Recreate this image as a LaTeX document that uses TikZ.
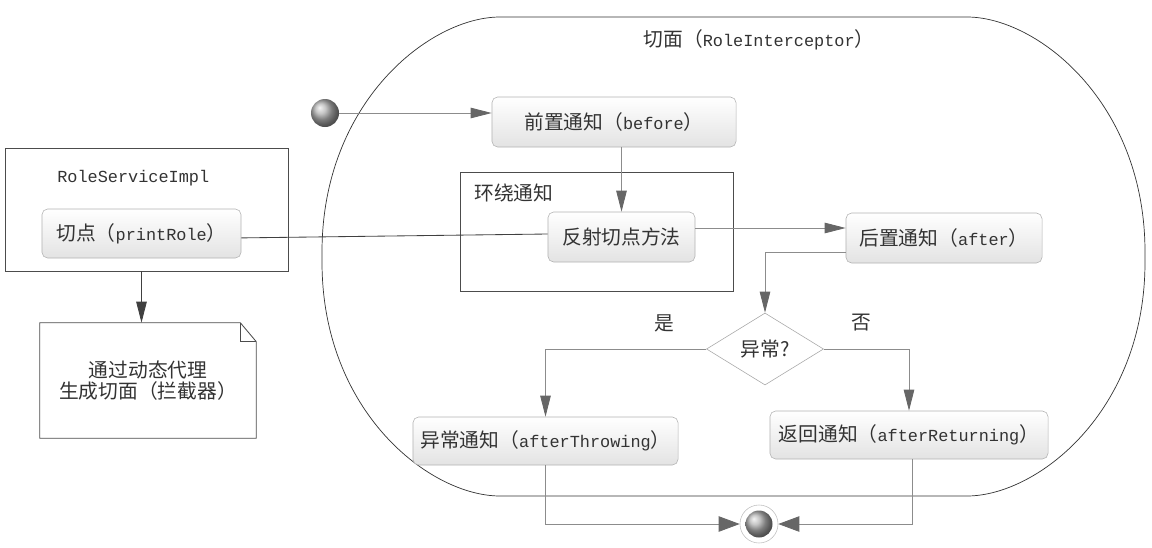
\documentclass[tikz,border=0pt]{standalone}
\usepackage{fontspec}
\setmainfont{Liberation Mono}
\newfontfamily\cjk[Scale=1.17]{Noto Sans CJK SC}
\usetikzlibrary{arrows.meta,shapes.geometric}
\newcommand{\zh}[1]{{\cjk #1}}

\begin{document}
\begin{tikzpicture}[x=0.025cm, y=-0.025cm, font=\fontsize{12}{14.5}\selectfont, text=black!80,
		advice/.style={draw=black!30, rounded corners=4pt, top color=white, bottom color=black!11, minimum height=1.25cm, inner sep=2pt},
		frame/.style={draw=black!70, line width=0.6pt},
		flow/.style={draw=black!45, line width=0.6pt, -{Triangle[length=15pt, width=7.5pt, color=black!60]}},
		flowwide/.style={flow, -{Triangle[length=15pt, width=11pt, color=black!60]}},
		ballnode/.style={circle, ball color=black!30, minimum size=0.7cm, inner sep=0pt}]
			%%%%% START %%%%%
			\useasboundingbox (0,0) rectangle (1152,547);
			
			% aspect outline
			\draw[black!80, line width=0.5pt] (500,17) -- (967,17) .. controls (1037,17) and (1145,102) .. (1145,252) -- (1145,262) .. controls (1145,412) and (1037,496) .. (967,496) -- (500,496) .. controls (430,496) and (322,412) .. (322,262) -- (322,252) .. controls (322,102) and (430,17) .. (500,17) -- cycle;
			\node (aspect) at (759,40) {\zh{切面（}RoleInterceptor\zh{）}};
			
			% target object
			\node[frame, minimum width=7.075cm, minimum height=3.075cm] (rsi) at (146.5,209.5) {};
			\node[anchor=west, inner sep=0pt] (rsilabel) at (57,178) {RoleServiceImpl};
			\node[advice, minimum width=4.975cm, minimum height=1.225cm] (cut) at (141.5,233.5) {\zh{切点（}printRole\zh{）}};
			
			\node[minimum width=5.4cm, minimum height=2.875cm, align=center] (note) at (148,380.5) {\zh{通过动态代理}\\\zh{生成切面（拦截器）}};
			\draw[frame] (note.north west) -- ([xshift=-0.4cm]note.north east) -- ([yshift=-0.475cm]note.north east) -- (note.south east) -- (note.south west) -- cycle;
			\draw[frame] ([xshift=-0.4cm]note.north east) -- ([xshift=-0.4cm, yshift=-0.475cm]note.north east) -- ([yshift=-0.475cm]note.north east);
			
			% advices
			\node[ballnode] (start) at (325,113) {};
			\node[advice, minimum width=6.1cm] (before) at (614,122) {\zh{前置通知（}before\zh{）}};
			
			\node[frame, minimum width=6.825cm, minimum height=2.975cm] (around) at (596.5,231.5) {};
			\node[anchor=west, inner sep=0pt] (aroundlabel) at (474,193) {\zh{环绕通知}};
			\node[advice, minimum width=3.675cm] (reflect) at (621.5,237) {\zh{反射切点方法}};
			
			\node[advice, minimum width=4.9cm] (after) at (944,238) {\zh{后置通知（}after\zh{）}};
			\node[diamond, draw=black!35, fill=white, minimum width=2.925cm, minimum height=1.8cm, inner sep=0pt] (exc) at (765,349) {\zh{异常?}};
			\node (yes) at (664,323) {\zh{是}};
			\node (no) at (861,323) {\zh{否}};
			
			\node[advice, minimum width=6.625cm, minimum height=1.2cm] (throwing) at (545.5,441) {\zh{异常通知（}afterThrowing\zh{）}};
			\node[advice, minimum width=6.95cm, minimum height=1.2cm] (returning) at (909,435) {\zh{返回通知（}afterReturning\zh{）}};
			
			\node[circle, draw=black!25, minimum size=0.95cm, inner sep=0pt] (final) at (759,524) {};
			\node[ballnode, minimum size=0.675cm] (finalball) at (final) {};
			
			% connectors
			\draw[flow, draw=black!75, -{Triangle[length=15pt, width=7.5pt, color=black!75]}] (cut.south |- rsi.south) -- (cut.south |- note.north);
			\draw[black!75, line width=0.6pt] ([yshift=-0.11cm]cut.east) -- ([yshift=0.075cm]reflect.west);
			
			\draw[flow] (start.east) -- (start.east -| before.west);
			\draw[flow] (reflect.north |- before.south) -- (reflect.north);
			\draw[flow] ([yshift=0.225cm]reflect.east) -- ([yshift=0.225cm]reflect.east -| after.west);
			\draw[flow] ([yshift=-0.35cm]after.west) -| (exc.north);
			\draw[flow] (exc.west) -| (throwing.north);
			\draw[flow] (exc.east) -| (returning.north);
			\draw[flowwide] (throwing.south) |- (final.west);
			\draw[flowwide] ([xshift=0.075cm]returning.south) |- (final.east);
			
			%%%%% END %%%%%
\end{tikzpicture}
\end{document}
